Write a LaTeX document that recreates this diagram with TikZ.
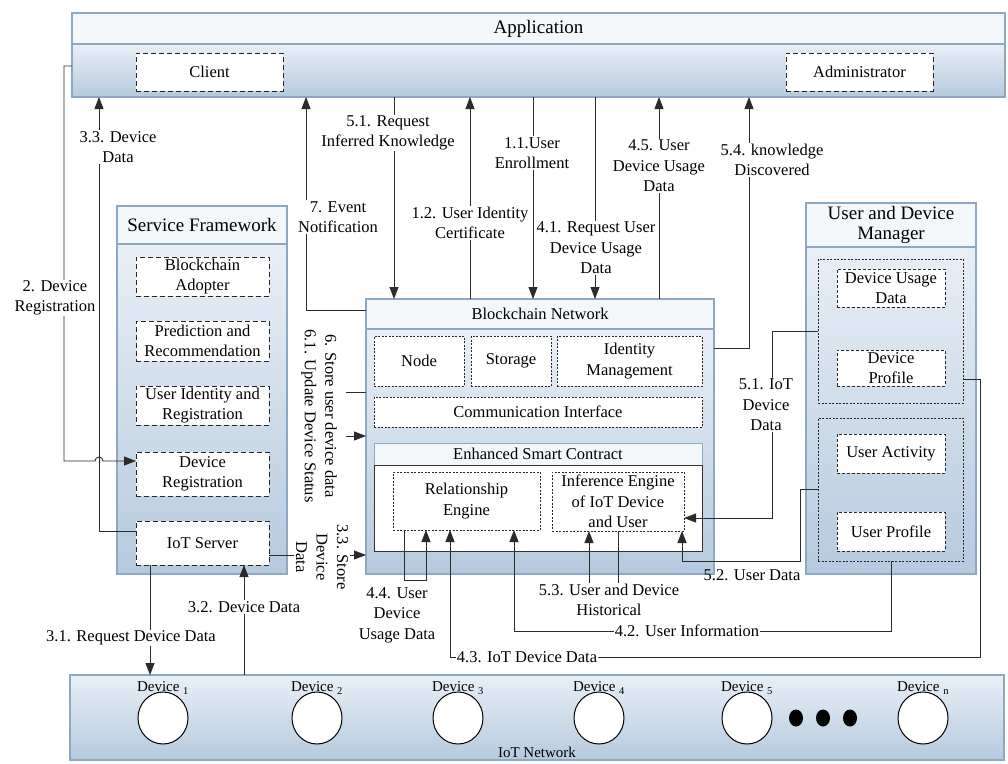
\documentclass[tikz,border=0pt]{standalone}
\usepackage{fontspec}
\setmainfont{Liberation Serif}
\usetikzlibrary{arrows.meta,shapes.geometric}

\definecolor{frameblue}{HTML}{8CA8C3}
\definecolor{bandfill}{HTML}{F3F7FA}
\definecolor{shadetop}{HTML}{E9EFF6}
\definecolor{shadebot}{HTML}{B5CADF}
\definecolor{wirecol}{HTML}{2B2B2B}

\newcommand\lblfont{\fontsize{16.5}{20.5}\selectfont}
\newcommand\ttlfont{\fontsize{19}{19.5}\selectfont}
\newcommand\devfont{\fontsize{15}{17}\selectfont}

% box from its corners: name, style, x1, y1, x2, y2
\newcommand\boxnode[6]{\node[#2, minimum width={#5-#3}, minimum height={#6-#4}] (#1) at ({(#3+#5)/2},{(#4+#6)/2})}

\tikzset{
  band/.style={draw=frameblue, fill=bandfill, line width=1.3pt, inner sep=0pt, outer sep=0pt, align=center, font=\lblfont},
  panel/.style={draw=frameblue, top color=shadetop, bottom color=shadebot, line width=1.3pt, inner sep=0pt, outer sep=0pt},
  bigdash/.style={draw=black!85, fill=white, line width=0.9pt, dash pattern=on 5pt off 3pt, inner sep=0pt, outer sep=0pt, align=center, font=\lblfont},
  finedash/.style={draw=black!85, fill=white, line width=0.7pt, dash pattern=on 2pt off 1.5pt, inner sep=0pt, outer sep=0pt, align=center, font=\lblfont},
  middash/.style={draw=black!85, fill=white, line width=0.8pt, dash pattern=on 3pt off 2pt, inner sep=0pt, outer sep=0pt, align=center, font=\lblfont},
  grouped/.style={draw=black!85, line width=0.7pt, dash pattern=on 2pt off 1.5pt, inner sep=0pt, outer sep=0pt},
  escbody/.style={draw=black!80, fill=white, line width=1pt, inner sep=0pt, outer sep=0pt},
  wire/.style={draw=wirecol, line width=0.9pt},
  flow/.style={wire, -{Triangle[length=12pt,width=9pt]}},
  lbl/.style={fill=white, inner sep=1pt, align=center, font=\lblfont},
  devc/.style={ellipse, draw=black, fill=white, line width=1pt, minimum width=50pt, minimum height=52pt, inner sep=0pt},
  devlbl/.style={font=\devfont, inner sep=0pt},
  blob/.style={ellipse, fill=black, minimum width=14pt, minimum height=17pt, inner sep=0pt},
}

\begin{document}
\begin{tikzpicture}[x=1pt,y=-1pt]
\useasboundingbox (0,0) rectangle (1008,763);

% ---------- Application ----------
\boxnode{apptitle}{band,font=\ttlfont}{72}{13}{1005}{44} {Application};
\boxnode{app}{panel}{72}{44}{1005}{97} {};
\boxnode{client}{bigdash}{136}{53}{283}{91} {Client};
\boxnode{admin}{bigdash}{786}{53}{933}{91} {Administrator};

% ---------- Service Framework ----------
\boxnode{sftitle}{band,font=\ttlfont}{117}{206}{287}{244} {Service Framework};
\boxnode{sf}{panel}{117}{244}{287}{574} {};
\boxnode{adopter}{bigdash}{136}{257}{269}{296} {Blockchain\\Adopter};
\boxnode{predict}{bigdash}{136}{321}{269}{361} {Prediction and\\Recommendation};
\boxnode{userid}{bigdash}{136}{386}{269}{425} {User Identity and\\Registration};
\boxnode{devreg}{bigdash}{136}{452}{269}{496} {Device\\Registration};
\boxnode{iotsrv}{bigdash}{136}{521}{269}{565} {IoT Server};

% ---------- Blockchain Network ----------
\boxnode{bctitle}{band}{366}{299}{714}{329} {Blockchain Network};
\boxnode{bc}{panel}{366}{329}{714}{574} {};
\boxnode{bnode}{finedash}{374}{336}{464}{386} {Node};
\boxnode{storage}{finedash}{471}{336}{551}{386} {Storage};
\boxnode{idm}{finedash}{557}{336}{702}{386} {Identity\\Management};
\boxnode{comm}{finedash}{374}{397}{702}{427} {Communication Interface};
\boxnode{esctitle}{band,line width=1pt}{374}{443}{702}{465} {Enhanced Smart Contract};
\boxnode{esc}{escbody}{374}{465}{702}{551} {};
\boxnode{rel}{finedash}{393}{472}{540}{530} {Relationship\\Engine};
\boxnode{inf}{finedash}{552}{472}{684}{531} {Inference Engine\\of IoT Device\\and User};

% ---------- User and Device Manager ----------
\boxnode{udmtitle}{band,font=\ttlfont}{806}{203}{976}{247} {User and Device\\Manager};
\boxnode{udm}{panel}{806}{247}{976}{574} {};
\boxnode{grp1}{grouped}{818}{259}{963}{403} {};
\boxnode{grp2}{grouped}{818}{418}{963}{561} {};
\boxnode{dusage}{middash}{837}{269}{945}{307} {Device Usage\\Data};
\boxnode{dprof}{middash}{837}{350}{945}{386} {Device\\Profile};
\boxnode{uact}{middash}{837}{434}{945}{473} {User Activity};
\boxnode{uprof}{middash}{837}{512}{945}{551} {User Profile};

% ---------- IoT Network ----------
\boxnode{net}{panel}{70}{675}{1004}{760} {};
\node[devlbl] (netname) at (537,752) {IoT Network};
\foreach \nm/\cx/\sub in {d1/163/1, d2/317/2, d3/458/3, d4/599/4, d5/747/5, dn/923/n}{
  \node[devc] (\nm) at (\cx,718) {};
  \node[devlbl] (\nm lbl) at (\cx,688) {Device \textsubscript{\sub}};
}
\node[blob] (dot1) at (796,718) {};
\node[blob] (dot2) at (823,718) {};
\node[blob] (dot3) at (850,718) {};

% ---------- connectors ----------
\draw[flow] (app.west |- 0,66) -- (64,66) -- (64,461) -- (95,461)
  arc[start angle=180, end angle=360, radius=4] -- (devreg.west |- 0,461);
\draw[flow] (iotsrv.west |- 0,531) -- (99,531) -- (99,0 |- app.south);
\draw[flow] (bctitle.west |- 0,310) -- (306,310) -- (306,0 |- app.south);
\draw[flow] (394,0 |- app.south) -- (394,0 |- bctitle.north);
\draw[flow] (470,0 |- bctitle.north) -- (470,0 |- app.south);
\draw[flow] (533,0 |- app.south) -- (533,0 |- bctitle.north);
\draw[flow] (595,0 |- app.south) -- (595,0 |- bctitle.north);
\draw[flow] (659,0 |- bctitle.north) -- (659,0 |- app.south);
\draw[flow] (bc.east |- 0,348) -- (749,348) -- (749,0 |- app.south);
\draw[flow] (bc.west |- 0,392) -- (325,392) -- (325,436) -- (bc.west |- 0,436);
\draw[flow] (iotsrv.east |- 0,555) -- (bc.west |- 0,555);
\draw[flow] (150,0 |- iotsrv.south) -- (150,0 |- net.north);
\draw[flow] (244,0 |- net.north) -- (244,0 |- iotsrv.south);
\draw[flow] (404,0 |- rel.south) -- (404,580) -- (426,580) -- (426,0 |- rel.south);
\draw[flow] (grp1.east |- 0,379) -- (980,379) -- (980,657) -- (450,657) -- (450,0 |- rel.south);
\draw[flow] (891,0 |- grp2.south) -- (891,631) -- (514,631) -- (514,0 |- rel.south);
\draw[flow] (618,0 |- inf.south) -- (618,592) -- (589,592) -- (589,0 |- inf.south);
\draw[flow] (grp2.west |- 0,489) -- (800,489) -- (800,561) -- (682,561) -- (682,0 |- inf.south);
\draw[flow] (grp1.west |- 0,331) -- (772,331) -- (772,518) -- (inf.east |- 0,518);

% ---------- connector labels ----------
\node[lbl] (l33) at (118,147) {3.3. Device\\Data};
\node[lbl] (l2) at (55,298) {2. Device\\Registration};
\node[lbl] (l51) at (388,133) {5.1. Request\\Inferred Knowledge};
\node[lbl] (l11) at (532,153) {1.1.User\\Enrollment};
\node[lbl] (l7) at (338,217) {7. Event\\Notification};
\node[lbl] (l12) at (470,223) {1.2. User Identity\\Certificate};
\node[lbl] (l41) at (596,248) {4.1. Request User\\Device Usage\\Data};
\node[lbl] (l45) at (659,166) {4.5. User\\Device Usage\\Data};
\node[lbl] (l54) at (772,160) {5.4. knowledge\\Discovered};
\node[lbl, rotate=-90, inner ysep=9pt] (l6) at (319,416) {6. Store user device data\\6.1. Update Device Status};
\node[lbl, rotate=-90, inner ysep=2pt] (l33s) at (322,557) {3.3. Store\\Device\\Data};
\node[lbl] (l51b) at (766,405) {5.1. IoT\\Device\\Data};
\node[lbl] (l32) at (244,607) {3.2. Device Data};
\node[lbl] (l31) at (131,638) {3.1. Request Device Data};
\node[lbl] (l44) at (397,615) {4.4. User\\Device\\Usage Data};
\node[lbl] (l53) at (609,600) {5.3. User and Device\\Historical};
\node[lbl, fill=none] (l52) at (752,575) {5.2. User Data};
\node[lbl] (l42) at (687,631) {4.2. User Information};
\node[lbl] (l43) at (527,657) {4.3. IoT Device Data};
\end{tikzpicture}
\end{document}
